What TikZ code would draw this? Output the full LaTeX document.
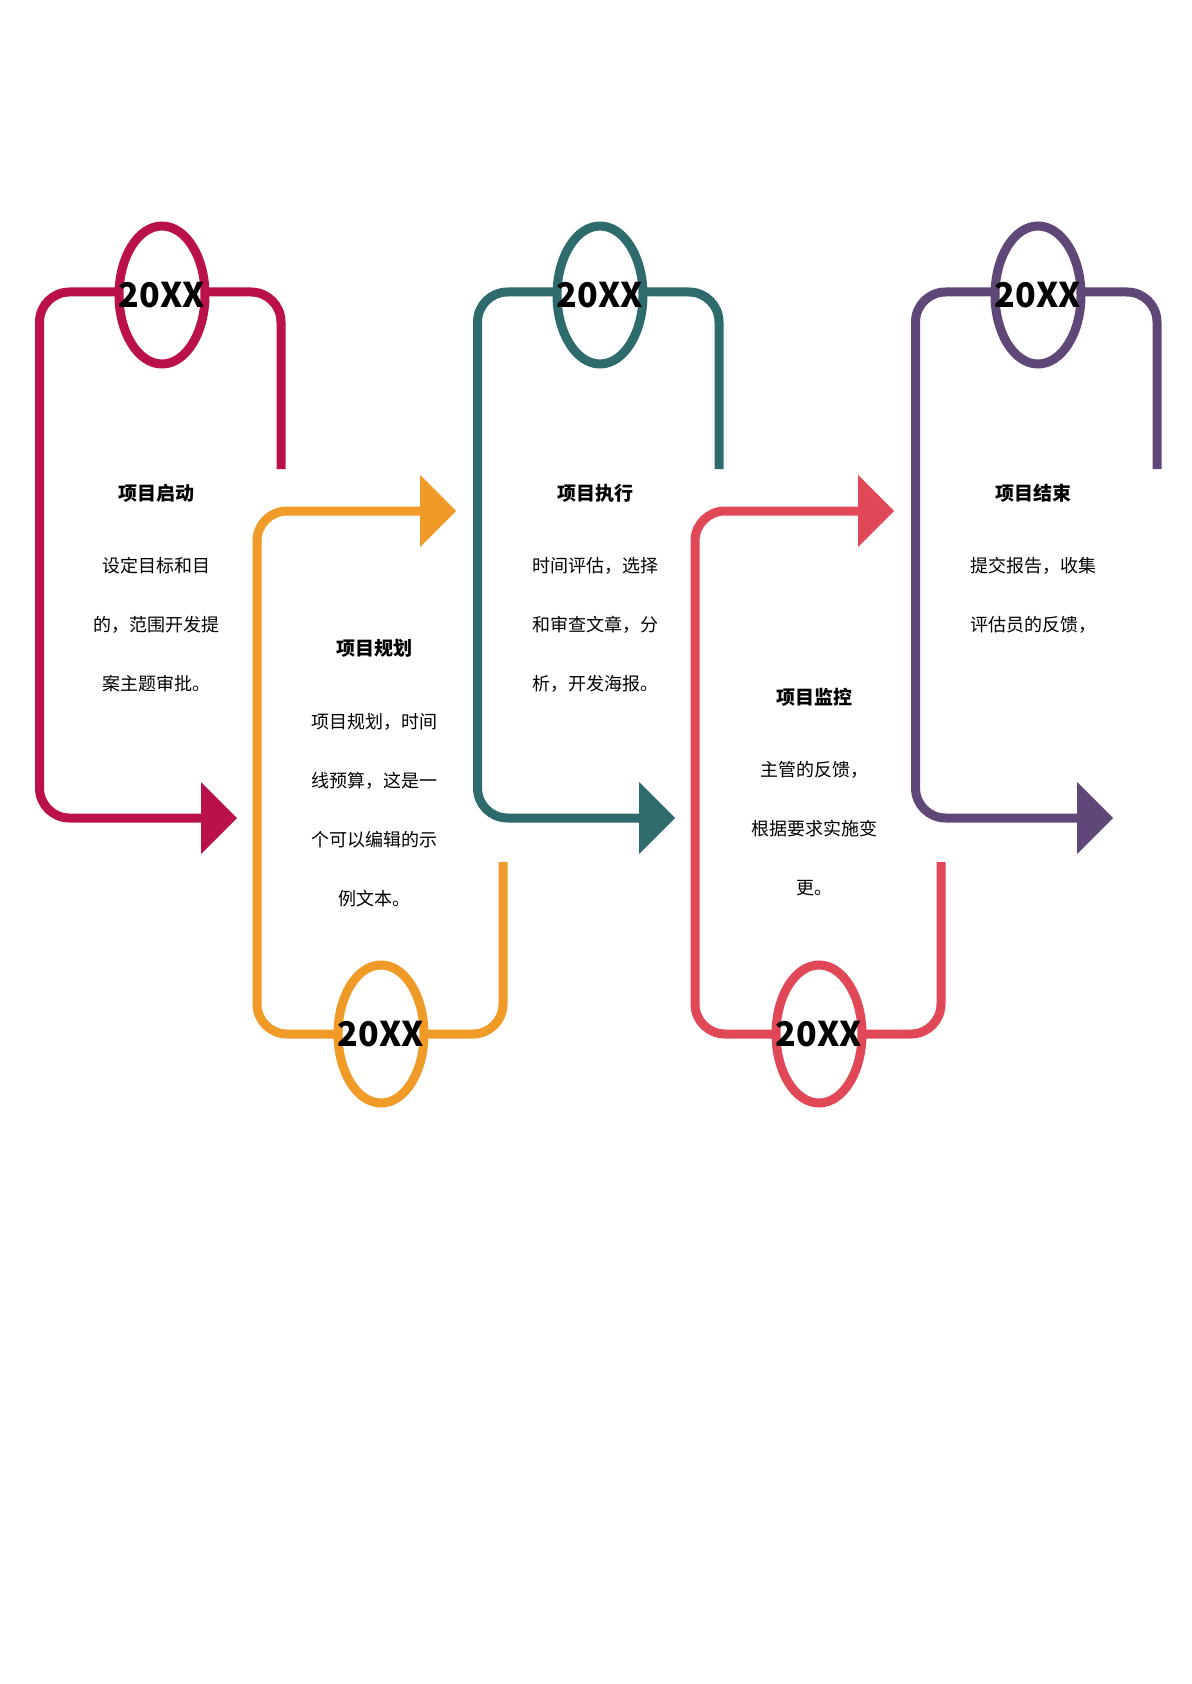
\documentclass[tikz,border=0pt]{standalone}
\usepackage{fontspec}
\usetikzlibrary{shapes.geometric}
\setmainfont{Noto Sans CJK SC}
\begin{document}
\begin{tikzpicture}[x=0.5pt,y=-0.5pt,
  ln/.style={line width=4.5pt,rounded corners=15pt},
  yr/.style={draw,line width=4.5pt,fill=white,ellipse,minimum width=43pt,minimum height=69pt,inner sep=0pt},
  yl/.style={font=\fontsize{17}{17}\selectfont\bfseries},
  ttl/.style={font=\fontsize{9.5}{10}\selectfont\bfseries},
  bd/.style={font=\fontsize{9}{29.5}\selectfont,align=center,anchor=north}]
\useasboundingbox (0,0) rectangle (1191,1684);
\definecolor{cA}{HTML}{BA114A}
\definecolor{cB}{HTML}{F09A28}
\definecolor{cC}{HTML}{2D6B6C}
\definecolor{cD}{HTML}{E04858}
\definecolor{cE}{HTML}{5F4878}
% top-type shapes
\foreach \o/\c/\n in {0/cA/a,438/cC/c,876/cE/e}{
  \coordinate (\n s) at (281+\o,469);
  \coordinate (\n b) at (201+\o,818);
  \draw[ln,\c] (\n s) -- (281+\o,292) -- (39.5+\o,292) -- (39.5+\o,818) -- (\n b);
  \fill[\c] (201+\o,782) -- (237+\o,818) -- (201+\o,854) -- cycle;
  \node[yr,draw=\c] (\n y) at (162+\o,295) {};
  \node[yl] at (\n y) {20XX};
}
% bottom-type shapes
\foreach \o/\c/\n in {0/cB/b,438/cD/d}{
  \coordinate (\n s) at (503+\o,862);
  \coordinate (\n b) at (420+\o,511);
  \draw[ln,\c] (\n s) -- (503+\o,1034) -- (257+\o,1034) -- (257+\o,511) -- (\n b);
  \fill[\c] (420+\o,475) -- (456+\o,511) -- (420+\o,547) -- cycle;
  \node[yr,draw=\c] (\n y) at (381+\o,1034) {};
  \node[yl] at (\n y) {20XX};
}
\node[ttl] (t1) at (156,493) {项目启动};
\node[bd] (b1) at (156,550) {设定目标和目\\的，范围开发提\\案主题审批。};
\node[ttl] (t2) at (374,648) {项目规划};
\node[bd] (b2) at (374,706) {项目规划，时间\\线预算，这是一\\个可以编辑的示\\例文本。};
\node[ttl] (t3) at (595,493) {项目执行};
\node[bd] (b3) at (595,550) {时间评估，选择\\和审查文章，分\\析，开发海报。};
\node[ttl] (t4) at (814,697) {项目监控};
\node[bd] (b4) at (814,754) {主管的反馈，\\根据要求实施变\\更。};
\node[ttl] (t5) at (1033,493) {项目结束};
\node[bd] (b5) at (1033,550) {提交报告，收集\\评估员的反馈，};
\end{tikzpicture}
\end{document}
